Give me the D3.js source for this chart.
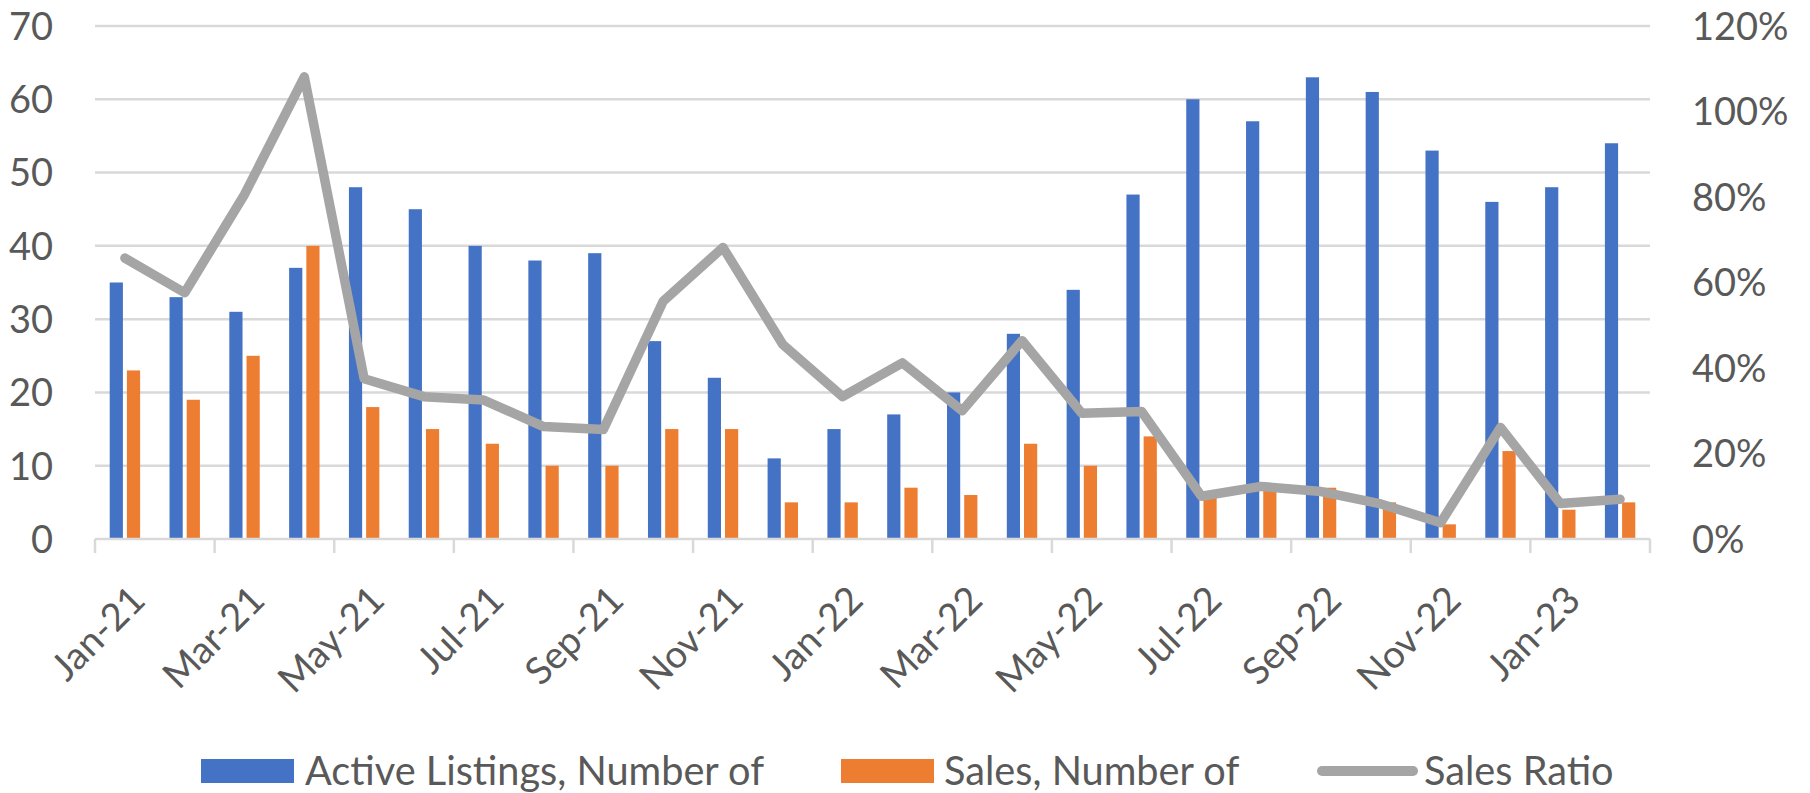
<!DOCTYPE html>
<html>
<head>
<meta charset="utf-8">
<script src="https://cdn.jsdelivr.net/npm/d3@7"></script>
<style>
html,body{margin:0;padding:0;background:#fff;}
svg text{font-family:Lato,"Open Sans",sans-serif;fill:#595959;}
</style>
</head>
<body>
<svg id="chart" width="1810" height="793"></svg>
<script>
var months=["Jan-21","Feb-21","Mar-21","Apr-21","May-21","Jun-21","Jul-21","Aug-21","Sep-21","Oct-21","Nov-21","Dec-21",
	"Jan-22","Feb-22","Mar-22","Apr-22","May-22","Jun-22","Jul-22","Aug-22","Sep-22","Oct-22","Nov-22","Dec-22",
	"Jan-23","Feb-23"];
var activeListings=[35,33,31,37,48,45,40,38,39,27,22,11,15,17,20,28,34,47,60,57,63,61,53,46,48,54];
var sales=[23,19,25,40,18,15,13,10,10,15,15,5,5,7,6,13,10,14,6,7,7,5,2,12,4,5];
var salesRatio=[0.657,0.576,0.806,1.081,0.375,0.333,0.325,0.263,0.256,0.556,0.682,0.455,
	0.333,0.412,0.30,0.464,0.294,0.298,0.10,0.123,0.111,0.082,0.038,0.261,0.083,0.093];
var leftTicks=[0,10,20,30,40,50,60,70];
var rightTicks=[0,0.2,0.4,0.6,0.8,1.0,1.2];
var seriesNames=["Active Listings, Number of","Sales, Number of","Sales Ratio"];

var BLUE="#4472C4",ORANGE="#ED7D31",GREY="#A5A5A5",GRID="#D9D9D9",
	LEFT=95,RIGHT=1650,TOP=26,BOTTOM=539,
	BARW=13.2,BARGAP=4,FONT=38,XFONT=38,LEGFONT=39.7;

var svg=d3.select("#chart");

var x=d3.scaleBand().domain(months).range([LEFT,RIGHT]).paddingInner(0).paddingOuter(0);
var y=d3.scaleLinear().domain([0,70]).range([BOTTOM,TOP]);
var y2=d3.scaleLinear().domain([0,1.2]).range([BOTTOM,TOP]);

//gridlines
svg.append("g")
	.selectAll("line")
	.data(leftTicks.slice(1))
	.enter().append("line")
	.attr("x1",LEFT).attr("x2",RIGHT)
	.attr("y1",function(d){return y(d);})
	.attr("y2",function(d){return y(d);})
	.attr("stroke",GRID).attr("stroke-width",2.5);

//left axis
var leftAxis=svg.append("g")
	.attr("transform","translate("+(LEFT-42)+",0)")
	.call(d3.axisLeft(y).tickValues(leftTicks).tickSize(0).tickPadding(0));
leftAxis.select(".domain").remove();
leftAxis.selectAll("text")
	.attr("x",0).attr("dy","0.35em")
	.style("font-size",FONT+"px").style("fill","#595959");

//right axis
var rightAxis=svg.append("g")
	.attr("transform","translate("+(RIGHT+42)+",0)")
	.call(d3.axisRight(y2).tickValues(rightTicks).tickFormat(d3.format(".0%")).tickSize(0).tickPadding(0));
rightAxis.select(".domain").remove();
rightAxis.selectAll("text")
	.attr("x",0).attr("dy","0.35em")
	.style("font-size",FONT+"px").style("fill","#595959");

//bars
var groups=svg.append("g")
	.selectAll("g")
	.data(months)
	.enter().append("g")
	.attr("transform",function(d){return "translate("+(x(d)+x.bandwidth()/2)+",0)";});

groups.append("rect")
	.attr("x",-BARW-BARGAP/2)
	.attr("width",BARW)
	.attr("y",function(d,i){return y(activeListings[i]);})
	.attr("height",function(d,i){return BOTTOM-y(activeListings[i]);})
	.attr("fill",BLUE);

groups.append("rect")
	.attr("x",BARGAP/2)
	.attr("width",BARW)
	.attr("y",function(d,i){return y(sales[i]);})
	.attr("height",function(d,i){return BOTTOM-y(sales[i]);})
	.attr("fill",ORANGE);

//x axis line and ticks
svg.append("line")
	.attr("x1",LEFT).attr("x2",RIGHT)
	.attr("y1",BOTTOM).attr("y2",BOTTOM)
	.attr("stroke",GRID).attr("stroke-width",2.5);

var tickPos=d3.range(0,months.length+1,2).map(function(i){return LEFT+i*x.bandwidth();});
svg.append("g")
	.selectAll("line")
	.data(tickPos)
	.enter().append("line")
	.attr("x1",function(d){return d;}).attr("x2",function(d){return d;})
	.attr("y1",BOTTOM).attr("y2",BOTTOM+14)
	.attr("stroke",GRID).attr("stroke-width",2.5);

svg.append("g")
	.selectAll("text")
	.data(months.filter(function(d,i){return i%2==0;}))
	.enter().append("text")
	.attr("transform",function(d){return "translate("+(x(d)+x.bandwidth()/2+13)+",593) rotate(-45)";})
	.attr("text-anchor","end")
	.attr("dy","0.35em")
	.style("font-size",XFONT+"px")
	.text(function(d){return d;});

//sales ratio line
var line=d3.line()
	.x(function(d,i){return x(months[i])+x.bandwidth()/2;})
	.y(function(d){return y2(d);});

svg.append("path")
	.datum(salesRatio)
	.attr("d",line)
	.attr("fill","none")
	.attr("stroke",GREY)
	.attr("stroke-width",9.5)
	.attr("stroke-linejoin","round")
	.attr("stroke-linecap","round");

//legend
var LEGY=771;
var legend=svg.append("g");
legend.append("rect").attr("x",201).attr("y",759).attr("width",93).attr("height",24).attr("fill",BLUE);
legend.append("text").attr("x",305).attr("y",LEGY).attr("dy","0.35em").style("font-size",LEGFONT+"px").text(seriesNames[0]);
legend.append("rect").attr("x",841).attr("y",759).attr("width",93).attr("height",24).attr("fill",ORANGE);
legend.append("text").attr("x",944).attr("y",LEGY).attr("dy","0.35em").style("font-size",LEGFONT+"px").text(seriesNames[1]);
legend.append("line").attr("x1",1322).attr("x2",1413).attr("y1",LEGY).attr("y2",LEGY)
	.attr("stroke",GREY).attr("stroke-width",10).attr("stroke-linecap","round");
legend.append("text").attr("x",1424).attr("y",LEGY).attr("dy","0.35em").style("font-size",LEGFONT+"px").text(seriesNames[2]);
</script>
</body>
</html>
